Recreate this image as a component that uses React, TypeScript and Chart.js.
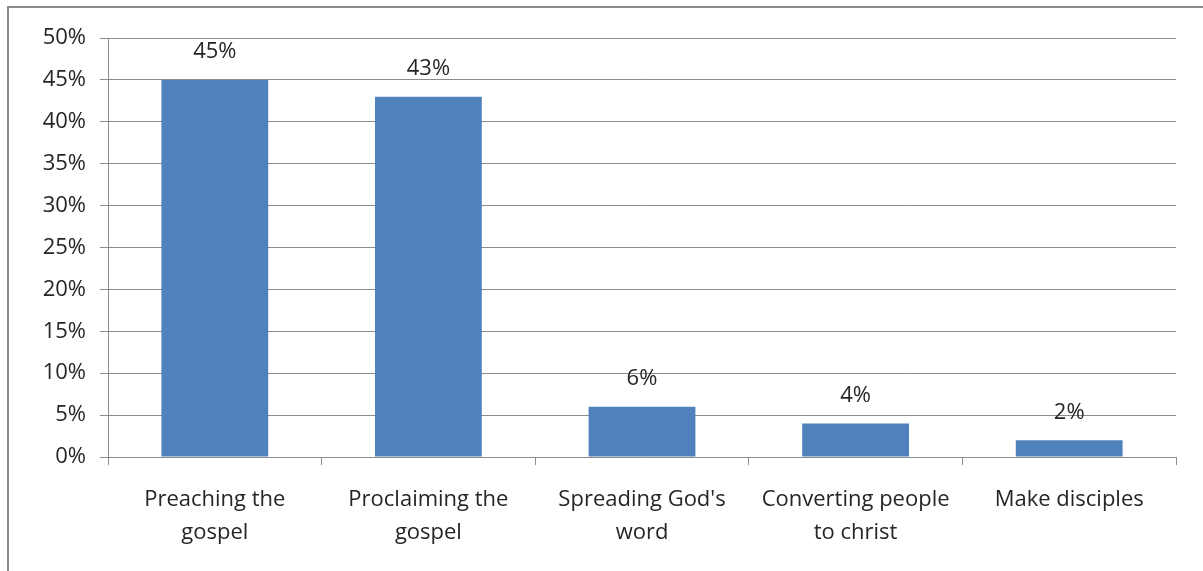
import React, { useEffect, useRef } from "react";
import { Chart, registerables } from "chart.js";

Chart.register(...registerables);

const categories: string[][] = [
  ["Preaching the", "gospel"],
  ["Proclaiming the", "gospel"],
  ["Spreading God's", "word"],
  ["Converting people", "to christ"],
  ["Make disciples"],
];
const values: number[] = [45, 43, 6, 4, 2];
const yTicks: number[] = [0, 5, 10, 15, 20, 25, 30, 35, 40, 45, 50];

const FONT = "'Open Sans', Lato, sans-serif";
const TEXT = "#262626";
const GRID = "#8c8c8c";

const valueLabels = {
  id: "valueLabels",
  afterDatasetsDraw(chart: any) {
    const ctx = chart.ctx;
    const meta = chart.getDatasetMeta(0);
    ctx.save();
    ctx.font = `22px ${FONT}`;
    ctx.fillStyle = TEXT;
    ctx.textAlign = "center";
    ctx.textBaseline = "middle";
    meta.data.forEach((bar: any, i: number) => {
      ctx.fillText(`${values[i]}%`, bar.x, bar.y - 28);
    });
    ctx.restore();
  },
};

export default function App() {
  const ref = useRef<HTMLCanvasElement | null>(null);

  useEffect(() => {
    if (!ref.current) return;
    const chart = new Chart(ref.current, {
      type: "bar",
      data: {
        labels: categories,
        datasets: [
          {
            data: values,
            backgroundColor: "#4F81BD",
            borderWidth: 0,
            barPercentage: 0.5,
            categoryPercentage: 1,
          },
        ],
      },
      options: {
        responsive: false,
        animation: false,
        layout: { padding: { top: 38, right: 27, left: 0, bottom: 0 } },
        plugins: { legend: { display: false }, tooltip: { enabled: false } },
        scales: {
          x: {
            grid: {
              display: true,
              drawOnChartArea: false,
              drawTicks: true,
              tickLength: 8,
              color: GRID,
              offset: true,
            },
            border: { display: true, color: GRID, width: 1 },
            ticks: {
              color: TEXT,
              font: { family: FONT, size: 22, lineHeight: 1.5 },
              padding: 18,
              maxRotation: 0,
              autoSkip: false,
            },
            afterFit: (s: any) => {
              s.height = 114;
            },
          },
          y: {
            min: 0,
            max: 50,
            afterBuildTicks: (s: any) => {
              s.ticks = yTicks.map((v) => ({ value: v }));
            },
            grid: { color: GRID, tickLength: 8, lineWidth: 1 },
            border: { display: true, color: GRID, width: 1 },
            ticks: {
              color: TEXT,
              font: { family: FONT, size: 22 },
              padding: 14,
              callback: (v: any) => `${v}%`,
            },
            afterFit: (s: any) => {
              s.width = 108;
            },
          },
        },
      },
      plugins: [valueLabels],
    });
    return () => chart.destroy();
  }, []);

  return (
    <div
      style={{
        position: "fixed",
        left: 0,
        top: 0,
        width: 1203,
        height: 571,
        overflow: "hidden",
        background: "#fff",
      }}
    >
      <div
        style={{
          position: "absolute",
          left: 7,
          top: 6,
          width: 1220,
          height: 600,
          borderLeft: "2px solid #8a8a8a",
          borderTop: "2px solid #8a8a8a",
        }}
      />
      <canvas
        ref={ref}
        width={1203}
        height={571}
        style={{ position: "absolute", left: 0, top: 0 }}
      />
    </div>
  );
}
